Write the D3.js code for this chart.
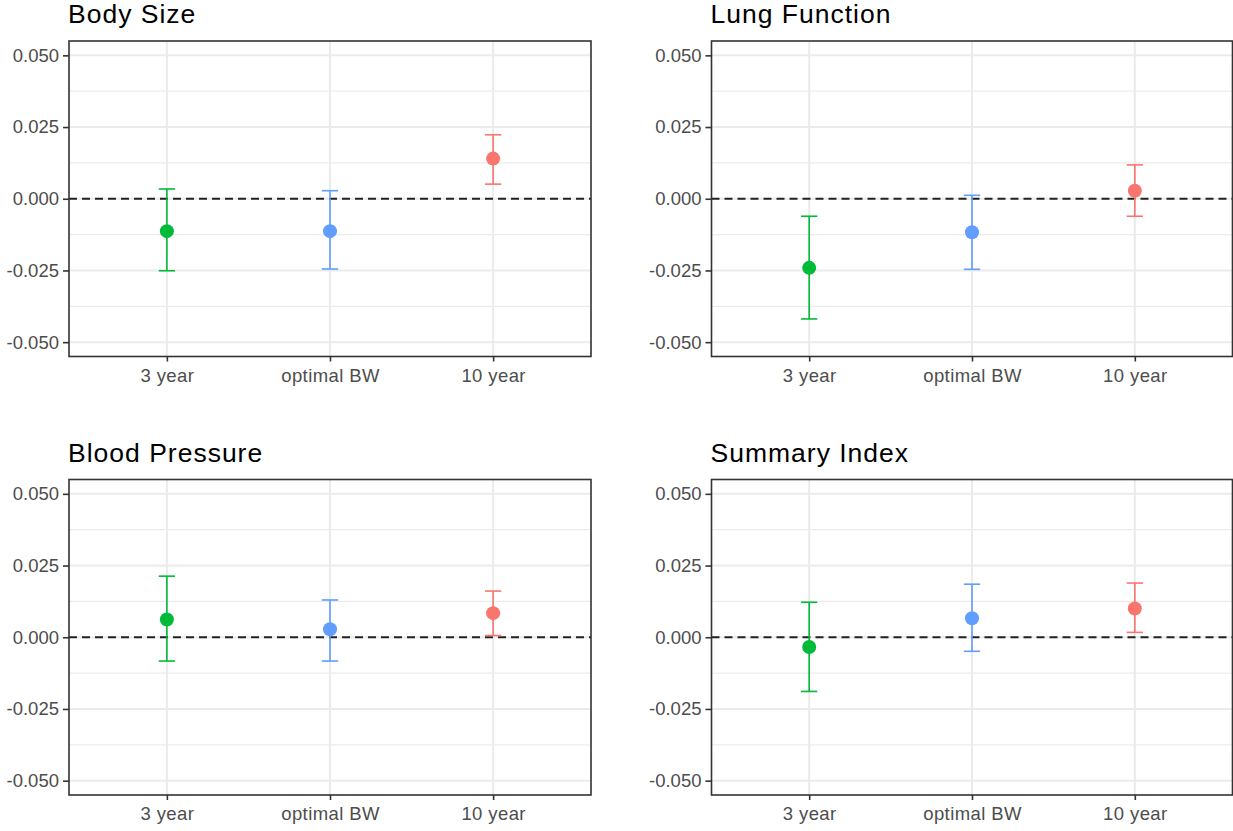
<!DOCTYPE html>
<html>
<head>
<meta charset="utf-8">
<script src="https://cdn.jsdelivr.net/npm/d3@7"></script>
<style>
  body { margin: 0; background: #fff; }
  svg { display: block; font-family: "Liberation Sans", Arial, sans-serif; }
</style>
</head>
<body>
<div id="chart"></div>
<script>
// categories on the x axis (ggplot default hue colours)
const categories = ["3 year", "optimal BW", "10 year"];
const catColors = ["#00BA38", "#619CFF", "#F8766D"];
const yTicks = [-0.05, -0.025, 0, 0.025, 0.05];
const yMinor = [-0.0375, -0.0125, 0.0125, 0.0375];

// panel titles and values (estimate, lower, upper) per category
const titles = ["Body Size", "Lung Function", "Blood Pressure", "Summary Index"];
const bodyEst = [-0.0113, -0.0113, 0.0140];
const bodyLo  = [-0.0251, -0.0245, 0.0051];
const bodyHi  = [0.0034, 0.0028, 0.0223];
const lungEst = [-0.0241, -0.0117, 0.0028];
const lungLo  = [-0.0419, -0.0246, -0.0061];
const lungHi  = [-0.0061, 0.0012, 0.0118];
const bpEst = [0.0062, 0.0028, 0.0084];
const bpLo  = [-0.0083, -0.0083, 0.0006];
const bpHi  = [0.0213, 0.0130, 0.0161];
const sumEst = [-0.0034, 0.0066, 0.0100];
const sumLo  = [-0.0189, -0.0049, 0.0017];
const sumHi  = [0.0122, 0.0185, 0.0189];

const panelData = [
  [bodyEst, bodyLo, bodyHi],
  [lungEst, lungLo, lungHi],
  [bpEst, bpLo, bpHi],
  [sumEst, sumLo, sumHi]
];

const width = 1233, height = 831;
// plot boxes: left, right, top, bottom
const boxes = [
  { x0: 69, x1: 591, y0: 41, y1: 356.5 },
  { x0: 711.5, x1: 1232.5, y0: 41, y1: 356.5 },
  { x0: 69, x1: 591, y0: 479.5, y1: 795 },
  { x0: 711.5, x1: 1232.5, y0: 479.5, y1: 795 }
];

const svg = d3.select("#chart").append("svg")
    .attr("width", width)
    .attr("height", height);

const fmt = d => d.toFixed(3);

panelData.forEach((pd, i) => {
    const b = boxes[i];
    const rows = categories.map((c, k) => ({ cat: c, est: pd[0][k], lo: pd[1][k], hi: pd[2][k], color: catColors[k] }));

    const xScale = d3.scalePoint().domain(categories).range([b.x0, b.x1]).padding(0.6);
    const yScale = d3.scaleLinear().domain([-0.055, 0.055]).range([b.y1, b.y0]);
    const step = xScale.step();

    const g = svg.append("g");

    // title
    g.append("text")
        .attr("x", b.x0 - 1)
        .attr("y", b.y0 - 18)
        .attr("font-size", "26.5px")
        .attr("letter-spacing", "1px")
        .attr("fill", "#000")
        .text(titles[i]);

    // minor grid
    g.selectAll(".minor").data(yMinor).enter().append("line")
        .attr("x1", b.x0).attr("x2", b.x1)
        .attr("y1", d => yScale(d)).attr("y2", d => yScale(d))
        .attr("stroke", "#EBEBEB").attr("stroke-width", 1.2);

    // major grid
    g.selectAll(".majorY").data(yTicks).enter().append("line")
        .attr("x1", b.x0).attr("x2", b.x1)
        .attr("y1", d => yScale(d)).attr("y2", d => yScale(d))
        .attr("stroke", "#EBEBEB").attr("stroke-width", 2);
    g.selectAll(".majorX").data(categories).enter().append("line")
        .attr("x1", d => xScale(d)).attr("x2", d => xScale(d))
        .attr("y1", b.y0).attr("y2", b.y1)
        .attr("stroke", "#EBEBEB").attr("stroke-width", 2);

    // zero reference line
    g.append("line")
        .attr("x1", b.x0).attr("x2", b.x1)
        .attr("y1", yScale(0)).attr("y2", yScale(0))
        .attr("stroke", "#222").attr("stroke-width", 1.8)
        .attr("stroke-dasharray", "8,5");

    // error bars
    const eb = g.selectAll(".eb").data(rows).enter().append("g")
        .attr("stroke", d => d.color).attr("stroke-width", 1.6).attr("fill", "none");
    eb.append("line")
        .attr("x1", d => xScale(d.cat)).attr("x2", d => xScale(d.cat))
        .attr("y1", d => yScale(d.lo)).attr("y2", d => yScale(d.hi));
    eb.append("line")
        .attr("x1", d => xScale(d.cat) - step * 0.05).attr("x2", d => xScale(d.cat) + step * 0.05)
        .attr("y1", d => yScale(d.lo)).attr("y2", d => yScale(d.lo));
    eb.append("line")
        .attr("x1", d => xScale(d.cat) - step * 0.05).attr("x2", d => xScale(d.cat) + step * 0.05)
        .attr("y1", d => yScale(d.hi)).attr("y2", d => yScale(d.hi));

    // points
    g.selectAll(".pt").data(rows).enter().append("circle")
        .attr("cx", d => xScale(d.cat))
        .attr("cy", d => yScale(d.est))
        .attr("r", 7)
        .attr("fill", d => d.color);

    // panel border
    g.append("rect")
        .attr("x", b.x0).attr("y", b.y0)
        .attr("width", b.x1 - b.x0).attr("height", b.y1 - b.y0)
        .attr("fill", "none").attr("stroke", "#333").attr("stroke-width", 1.6);

    // axes
    const yAxis = g.append("g")
        .attr("transform", `translate(${b.x0},0)`)
        .call(d3.axisLeft(yScale).tickValues(yTicks).tickFormat(fmt).tickSize(6).tickPadding(4));
    const xAxis = g.append("g")
        .attr("transform", `translate(0,${b.y1})`)
        .call(d3.axisBottom(xScale).tickSize(5).tickPadding(7));

    [yAxis, xAxis].forEach(ax => {
        ax.select(".domain").remove();
        ax.selectAll(".tick line").attr("stroke", "#333").attr("stroke-width", 1.6);
        ax.selectAll(".tick text")
            .attr("fill", "#4D4D4D")
            .attr("font-size", "18.5px")
            .attr("font-family", "'Liberation Sans', Arial, sans-serif");
    });
    xAxis.selectAll(".tick text").attr("letter-spacing", "0.4px");
});
</script>
</body>
</html>
